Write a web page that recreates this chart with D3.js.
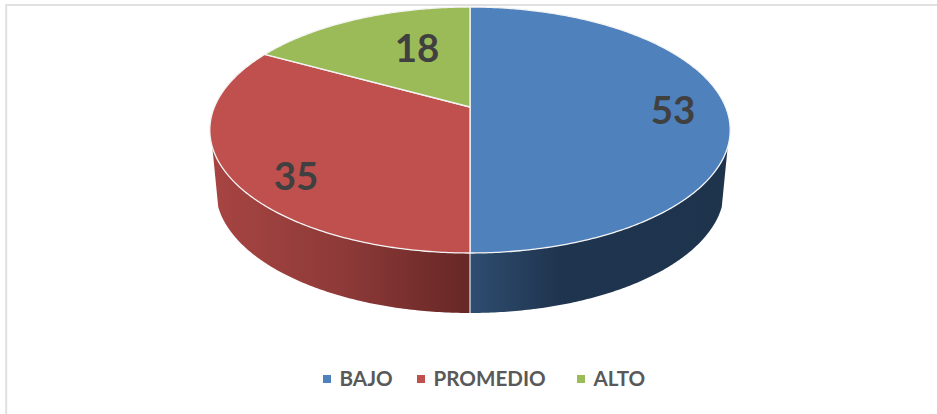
<!DOCTYPE html>
<html><head><meta charset="utf-8">
<script src="https://cdn.jsdelivr.net/npm/d3@7"></script>
<style>html,body{margin:0;padding:0;background:#fff;overflow:hidden}svg{display:block}text{font-family:Lato,"Open Sans",sans-serif;font-weight:700}</style>
</head><body><svg id="c" width="937" height="414"></svg>
<script>
const categories = ["BAJO","PROMEDIO","ALTO"];
const values = [53,35,18];
const colors = ["#4f81bd","#c0504d","#9bbb59"];
const sideStops = [
  [["#2e4d70",0],["#1f344e",0.36],["#1e334c",1]],
  [["#a64442",0],["#8d3a38",0.5],["#662725",1]],
  [["#9bbb59",0],["#9bbb59",1]]
];
const legendX = [323,417,577];
const labelXY = [[673,110],[296,176],[417,48]];

// perspective projection of a tilted circle
const apex={x:470,y:107}, ax=255.6, ay=118.7, k=0.187, depth=60, shrink=0.977;
const proj=(t,r=1,d=0)=>{
  const X=Math.sin(t)*r, Y=Math.cos(t)*r, w=1+k*Y, s=d?shrink:1;
  return [apex.x+s*ax*X/w, apex.y-ay*Y/w+d];
};
const pie=d3.pie().sort(null).startAngle(0).endAngle(2*Math.PI);
const arcs=pie(values);
const svg=d3.select("#c");
const line=d3.line();
const sample=(a,b,d=0)=>{const n=Math.max(2,Math.ceil(Math.abs(b-a)/0.01));return d3.range(n+1).map(i=>proj(a+(b-a)*i/n,1,d));};

// frame
svg.append("path").attr("d","M6.2,414V5H937").attr("fill","none").attr("stroke","#e0e0e0").attr("stroke-width",2);

// gradients
const defs=svg.append("defs");
sideStops.forEach((st,i)=>{
  const g=defs.append("linearGradient").attr("id","s"+i).attr("gradientUnits","userSpaceOnUse")
    .attr("x1",i==0?470:217).attr("x2",i==0?724:470).attr("y1",0).attr("y2",0);
  st.forEach(s=>g.append("stop").attr("offset",s[1]).attr("stop-color",s[0]));
});

// visible side walls (front half)
const sideFrom=Math.acos(-0.317), sideTo=2*Math.PI-sideFrom;
arcs.forEach((a,i)=>{
  const s=Math.max(a.startAngle,sideFrom), e=Math.min(a.endAngle,sideTo);
  if(e<=s) return;
  const pts=sample(s,e).concat(sample(e,s,depth));
  svg.append("path").attr("d",line(pts)+"Z").attr("fill",`url(#s${i})`);
});
// vertical seam between the visible walls
svg.append("path").attr("d",line([proj(Math.PI),proj(Math.PI,1,depth)])).attr("stroke","#e8e8e8").attr("stroke-width",1.2).attr("fill","none");

// top face
arcs.forEach((a,i)=>{
  const pts=[[apex.x,apex.y]].concat(sample(a.startAngle,a.endAngle));
  svg.append("path").attr("d",line(pts)+"Z").attr("fill",colors[i]).attr("stroke","#f4f4f4").attr("stroke-width",1.3).attr("stroke-linejoin","round");
});

// labels
svg.selectAll(".v").data(values).join("text").attr("class","v")
  .attr("x",(d,i)=>labelXY[i][0]).attr("y",(d,i)=>labelXY[i][1]+13.5)
  .attr("text-anchor","middle").attr("font-size",38.5).attr("fill","#404040").text(d=>d);

// legend
const lg=svg.selectAll(".l").data(categories).join("g").attr("class","l");
lg.append("rect").attr("x",(d,i)=>legendX[i]).attr("y",375).attr("width",8).attr("height",8).attr("fill",(d,i)=>colors[i]);
lg.append("text").attr("x",(d,i)=>legendX[i]+16.5).attr("y",386).attr("font-size",20.6).attr("fill","#595959").text(d=>d);
</script></body></html>
